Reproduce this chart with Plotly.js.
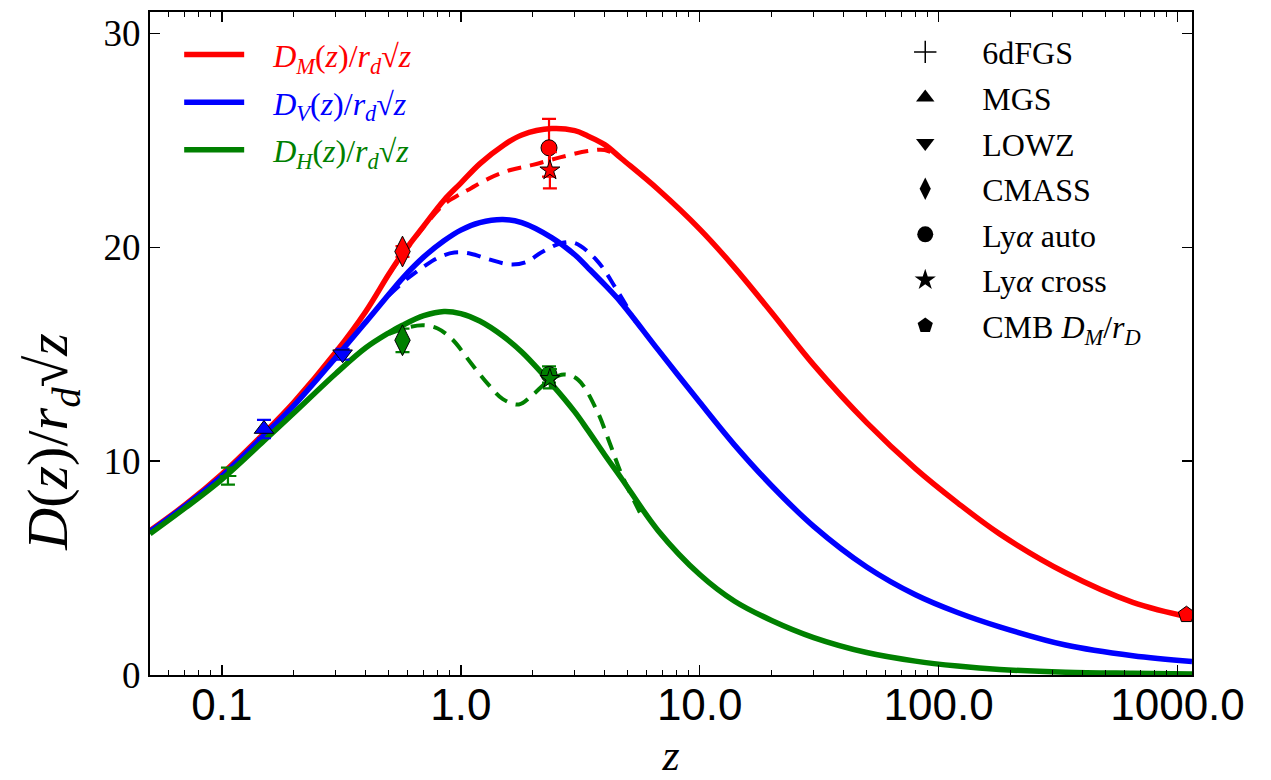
<!DOCTYPE html>
<html><head><meta charset="utf-8">
<script src="https://cdn.plot.ly/plotly-3.0.1.min.js"></script>
<style>html,body{margin:0;padding:0;background:#fff}</style>
</head><body>
<div id="chart" style="width:1271px;height:780px"></div>
<script>
// ---- model curves ----
const zModel = [0.05, 0.07, 0.1, 0.15, 0.2, 0.3, 0.4, 0.5, 0.57, 0.7, 0.85, 1.0, 1.2, 1.5, 1.8, 2.4, 3.0, 3.4, 4.0, 4.7, 6.7, 10, 14, 20, 30, 50, 80, 120, 180, 340, 650, 1150];
const dmModel = [6.75, 7.95, 9.4, 11.3, 12.75, 15.1, 17.0, 18.75, 19.7, 21.0, 22.2, 23.0, 23.9, 24.75, 25.25, 25.55, 25.45, 25.2, 24.8, 24.15, 22.7, 20.85, 19.05, 16.95, 14.5, 11.8, 9.65, 8.05, 6.6, 4.78, 3.4, 2.68];
const dvModel = [6.7, 7.9, 9.3, 11.2, 12.6, 14.85, 16.5, 17.8, 18.55, 19.55, 20.3, 20.8, 21.15, 21.3, 21.15, 20.45, 19.65, 19.05, 18.25, 17.4, 15.2, 12.75, 10.75, 8.85, 6.95, 5.05, 3.75, 2.92, 2.25, 1.4, 0.9, 0.63];
const dhModel = [6.6, 7.8, 9.15, 10.95, 12.25, 14.1, 15.3, 16.0, 16.35, 16.8, 17.0, 16.9, 16.55, 15.85, 15.1, 13.6, 12.3, 11.45, 10.3, 9.2, 6.75, 4.7, 3.45, 2.55, 1.75, 1.05, 0.65, 0.42, 0.26, 0.13, 0.08, 0.05];

// ---- alternative (dashed) curves ----
const zAltDM = [0.5, 0.7, 0.85, 1.0, 1.1, 1.3, 1.6, 2.0, 2.6, 3.4, 4.0, 4.4];
const dmAlt = [18.75, 20.95, 22.0, 22.5, 22.75, 23.2, 23.6, 23.85, 24.2, 24.5, 24.55, 24.35];
const zAltDV = [0.5, 0.6, 0.7, 0.8, 0.94, 1.1, 1.3, 1.6, 1.87, 2.17, 2.64, 3.0, 3.7, 4.5, 5.4];
const dvAlt = [17.75, 18.55, 19.1, 19.5, 19.75, 19.7, 19.45, 19.2, 19.3, 19.75, 20.2, 20.2, 19.4, 18.0, 16.5];
const zAltDH = [0.5, 0.6, 0.7, 0.8, 0.92, 1.1, 1.3, 1.5, 1.75, 2.0, 2.3, 2.7, 3.1, 3.7, 4.2, 4.7, 5.5, 5.8];
const dhAlt = [15.95, 16.25, 16.35, 16.2, 15.7, 14.6, 13.6, 12.9, 12.65, 13.1, 13.7, 14.05, 13.8, 12.4, 10.85, 9.4, 7.8, 7.3];

// ---- measurements ----
const z6df = [0.106], v6df = [9.3], e6df = [0.4];
const zMgs = [0.15], vMgs = [11.5], eMgs = [0.43];
const zLowz = [0.32], vLowz = [15.0], eLowz = [0.25];
const zCmass = [0.57], dmCmass = [19.8], eDmCmass = [0.25], dhCmass = [15.65], eDhCmass = [0.55];
const zLyaAuto = [2.34], dmLyaAuto = [24.65], eDmLyaAuto = [1.35], dhLyaAuto = [14.05], eDhLyaAuto = [0.38];
const zLyaCross = [2.36], dmLyaCross = [23.6], eDmLyaCross = [0.85], dhLyaCross = [13.85], eDhLyaCross = [0.45];
const zCmb = [1090], dmCmb = [2.82];

// ---- labels ----
const curveNames = [
  '<span style="color:#ff0000"><i>D</i><sub><i>M</i></sub>(<i>z</i>)/<i>r</i><sub><i>d</i></sub>√<i>z</i></span>',
  '<span style="color:#0000ff"><i>D</i><sub><i>V</i></sub>(<i>z</i>)/<i>r</i><sub><i>d</i></sub>√<i>z</i></span>',
  '<span style="color:#008000"><i>D</i><sub><i>H</i></sub>(<i>z</i>)/<i>r</i><sub><i>d</i></sub>√<i>z</i></span>'
];
const surveyNames = ['6dFGS', 'MGS', 'LOWZ', 'CMASS', 'Ly<i>α</i> auto', 'Ly<i>α</i> cross', 'CMB <i>D</i><sub><i>M</i></sub>/<i>r</i><sub><i>D</i></sub>'];
const surveySymbols = ['cross-thin', 'triangle-up', 'triangle-down', 'diamond-tall', 'circle', 'star', 'pentagon'];
const xTickVals = [0.1, 1, 10, 100, 1000];
const xTickText = ['0.1', '1.0', '10.0', '100.0', '1000.0'];
const yTickVals = [0, 10, 20, 30];

// minor tick positions of the log axis (2..9 in each decade)
const xMinorVals = [];
for (let e = -2; e <= 3; e++) for (let m = 2; m <= 9; m++) xMinorVals.push(m * Math.pow(10, e));

const RED = '#ff0000', BLUE = '#0000ff', GREEN = '#008000';
const traces = [];

function dashed(x, y, c) {
  traces.push({x, y, mode: 'lines', line: {color: c, width: 4, dash: '14px,9px', shape: 'spline'}, showlegend: false, hoverinfo: 'skip'});
}
dashed(zAltDM, dmAlt, RED);
dashed(zAltDV, dvAlt, BLUE);
dashed(zAltDH, dhAlt, GREEN);

const PAD1 = '\u2002\u2005';
[[dmModel, RED], [dvModel, BLUE], [dhModel, GREEN]].forEach(([y, c], i) => {
  traces.push({x: zModel, y, mode: 'lines', name: PAD1 + curveNames[i], legend: 'legend', legendgroup: 'c' + i,
    line: {color: c, width: 5.5, shape: 'spline', smoothing: 1}});
});

function pts(x, y, e, c, sym, size) {
  const t = {x, y, mode: 'markers', showlegend: false,
    marker: {symbol: sym, size, color: c, line: {color: sym === 'cross-thin' ? c : '#000', width: sym === 'cross-thin' ? 2 : 1}}};
  if (e) t.error_y = {type: 'data', array: e, visible: true, color: c, thickness: 2.2, width: 7};
  traces.push(t);
}
pts(z6df, v6df, e6df, GREEN, 'cross-thin', 12);
pts(zMgs, vMgs, eMgs, BLUE, 'triangle-up', 17);
pts(zLowz, vLowz, eLowz, BLUE, 'triangle-down', 17);
pts(zCmass, dmCmass, eDmCmass, RED, 'diamond-tall', 22);
pts(zCmass, dhCmass, eDhCmass, GREEN, 'diamond-tall', 22);
pts(zLyaAuto, dmLyaAuto, eDmLyaAuto, RED, 'circle', 16);
pts(zLyaAuto, dhLyaAuto, eDhLyaAuto, GREEN, 'circle', 16);
pts(zLyaCross, dmLyaCross, eDmLyaCross, RED, 'star', 15);
pts(zLyaCross, dhLyaCross, eDhLyaCross, GREEN, 'star', 15);
pts(zCmb, dmCmb, null, RED, 'pentagon', 17);

const PAD2 = '\u2003';
surveyNames.forEach((n, i) => {
  const sym = surveySymbols[i];
  traces.push({x: [null], y: [null], mode: 'markers', name: PAD2 + n, legend: 'legend2', legendgroup: 's' + i,
    marker: {symbol: sym, size: sym === 'diamond-tall' ? 20 : 16, color: '#000', line: {color: '#000', width: sym === 'cross-thin' ? 1.5 : 0}}});
});

const serif = '"Liberation Serif", "DejaVu Serif", "Times New Roman", serif';
const layout = {
  width: 1271, height: 780,
  margin: {l: 150, r: 79, t: 12, b: 105},
  paper_bgcolor: '#fff', plot_bgcolor: '#fff',
  showlegend: true,
  xaxis: {
    type: 'log', range: [Math.log10(0.05), Math.log10(1150)],
    tickmode: 'array', tickvals: xTickVals, ticktext: xTickText,
    ticks: 'inside', ticklen: 10, tickwidth: 1.5, tickcolor: '#000',
    minor: {tickmode: 'array', tickvals: xMinorVals, ticks: 'inside', ticklen: 5, tickwidth: 1, tickcolor: '#000', showgrid: false},
    showline: true, linecolor: '#000', linewidth: 2, mirror: 'ticks',
    showgrid: false, zeroline: false,
    ticklabelstandoff: -10,
    tickfont: {family: '"Liberation Sans Narrow", "Arial Narrow", "Liberation Sans", sans-serif', size: 44, color: '#000'},
    title: {text: '<i>z</i>', font: {family: serif, size: 44, color: '#000'}, standoff: 24}
  },
  yaxis: {
    range: [0, 31], tickmode: 'array', tickvals: yTickVals,
    ticks: 'inside', ticklen: 10, tickwidth: 1.5, tickcolor: '#000',
    showline: true, linecolor: '#000', linewidth: 2, mirror: 'ticks',
    showgrid: false, zeroline: false,
    tickfont: {family: serif, size: 37, color: '#000'}
  },
  legend: {x: 0.028, y: 0.977, xanchor: 'left', yanchor: 'top', bgcolor: 'rgba(0,0,0,0)', borderwidth: 0,
    traceorder: 'grouped', tracegroupgap: 3, itemwidth: 60,
    font: {family: serif, size: 32}},
  legend2: {x: 0.72, y: 0.981, xanchor: 'left', yanchor: 'top', bgcolor: 'rgba(0,0,0,0)', borderwidth: 0,
    traceorder: 'grouped', tracegroupgap: 1, itemwidth: 40,
    font: {family: serif, size: 32, color: '#000'}},
  annotations: [{
    text: '<i>D</i>(<i>z</i>)/<i>r</i><sub><i>d</i></sub>√<i>z</i>',
    xref: 'paper', yref: 'paper', x: -0.094, y: 0.352, xanchor: 'center', yanchor: 'middle',
    textangle: -90, showarrow: false,
    font: {family: serif, size: 58, color: '#000'}
  }]
};
Plotly.newPlot('chart', traces, layout, {displayModeBar: false, staticPlot: true});
</script>
</body></html>
